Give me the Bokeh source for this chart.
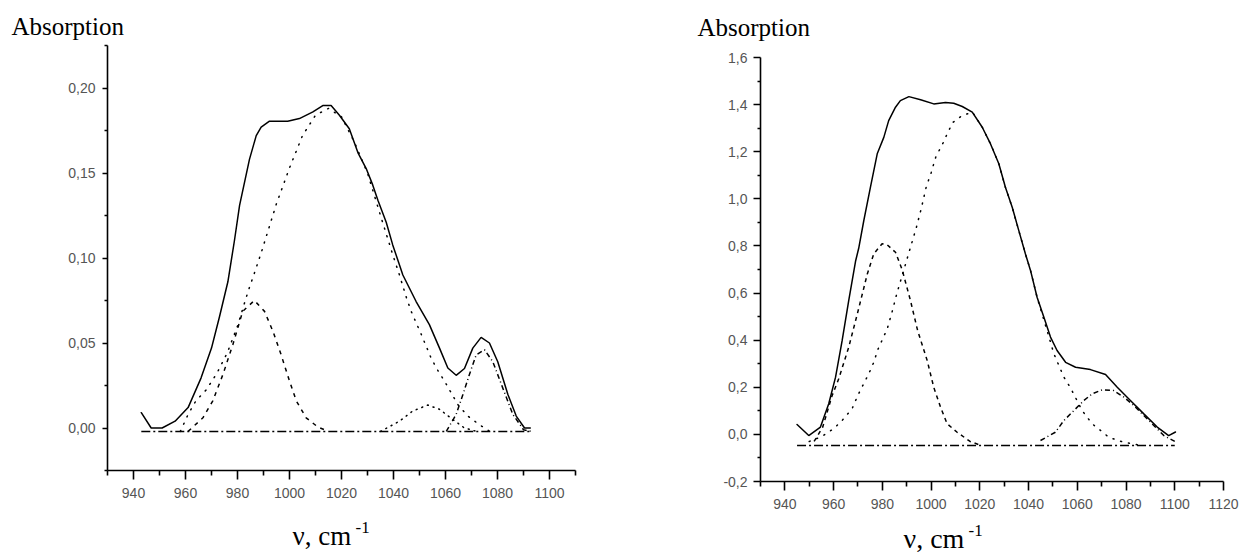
from bokeh.plotting import figure
from bokeh.models import FixedTicker, CustomJSTickFormatter, LinearAxis, Range1d
from bokeh.core.properties import value
from bokeh.embed import file_html
from bokeh.resources import INLINE

# ---------------- data: left spectrum ----------------
left_solid_x = [943, 946.8, 951, 956, 961, 966, 970, 973, 976.3, 978.8, 980.8, 984.6, 987.2, 989.1,
                992.3, 999.3, 1003.8, 1009, 1012.8, 1016, 1019.2, 1023, 1026.3, 1029.5, 1032, 1034,
                1037.2, 1039.7, 1043.6, 1048.7, 1053.8, 1057.7, 1060.9, 1064.1, 1067.3, 1070.5,
                1073.7, 1076.9, 1080.1, 1084, 1087.2, 1090.4, 1092.6]
left_solid_y = [0.009, 0.0, 0.0, 0.004, 0.012, 0.0295, 0.047, 0.065, 0.086, 0.110, 0.131, 0.158, 0.172, 0.177,
                0.1805, 0.1805, 0.182, 0.186, 0.1897, 0.1897, 0.184, 0.176, 0.162, 0.1526, 0.143, 0.134,
                0.121, 0.1077, 0.090, 0.0744, 0.0608, 0.047, 0.0353, 0.031, 0.035, 0.047,
                0.0533, 0.050, 0.039, 0.0197, 0.007, 0.0, 0.0]

left_g1_x = [961, 966.7, 970.5, 974.4, 978.2, 982, 986.5, 990.4, 993.6, 996.8, 1000, 1002.6, 1006.4, 1010.9, 1015]
left_g1_y = [-0.002, 0.006, 0.016, 0.0315, 0.049, 0.0686, 0.075, 0.0686, 0.057, 0.043, 0.0276, 0.016, 0.006, 0.0006, -0.002]

left_b1_x = [958, 961, 964, 968, 972, 976, 980, 984, 987.8, 989.3, 995, 1000, 1005, 1010, 1015, 1020, 1025,
             1030, 1035, 1039.7, 1042.3, 1044.9, 1046.8, 1050.7, 1052.6, 1054.5, 1057, 1059.6, 1062.2,
             1064.7, 1068.6, 1073, 1077]
left_b1_y = [-0.002, 0.008, 0.016, 0.0225, 0.032, 0.044, 0.060, 0.080, 0.097, 0.104, 0.132, 0.153, 0.172, 0.184,
             0.188, 0.183, 0.168, 0.150, 0.125, 0.102, 0.090, 0.077, 0.0686, 0.055, 0.048, 0.041, 0.034,
             0.0276, 0.0207, 0.0139, 0.007, 0.002, -0.002]

left_g2_x = [1035, 1042.3, 1047.4, 1053.2, 1057.7, 1062.8, 1067.3, 1072]
left_g2_y = [-0.002, 0.004, 0.010, 0.0135, 0.011, 0.005, 0.0, -0.002]

left_g3_x = [1060.3, 1064.1, 1066.7, 1069.2, 1071.8, 1075, 1078.2, 1082, 1085.9, 1090, 1093]
left_g3_y = [-0.002, 0.008, 0.0197, 0.0315, 0.043, 0.046, 0.039, 0.0236, 0.008, -0.001, -0.002]

left_base_x = [943, 1093]
left_base_y = [-0.002, -0.002]

left_xlim = (930, 1110)
left_ylim = (-0.025, 0.225)
left_xticks = [940, 960, 980, 1000, 1020, 1040, 1060, 1080, 1100]
left_xminor = [930, 950, 970, 990, 1010, 1030, 1050, 1070, 1090, 1110]
left_yticks = [0.0, 0.05, 0.10, 0.15, 0.20]
left_yminor = [-0.025, 0.025, 0.075, 0.125, 0.175, 0.225]

# ---------------- data: right spectrum ----------------
right_solid_x = [945, 949.8, 954.6, 958, 960.8, 963.5, 966.2, 969, 970.3, 972.4, 975.1, 977.9, 980.6, 982.6,
                 985.4, 987.4, 990.9, 995.7, 1001.1, 1005.9, 1009.3, 1012.8, 1016.9, 1021, 1024.4, 1027.8,
                 1030.5, 1033.3, 1036, 1038.7, 1040.8, 1043.5, 1046.3, 1049, 1051.7, 1055.2, 1059.3, 1065.4,
                 1071.6, 1076.4, 1081.8, 1087.3, 1092.8, 1097.5, 1100.3]
right_solid_y = [0.042, -0.005, 0.031, 0.13, 0.243, 0.398, 0.568, 0.735, 0.79, 0.908, 1.049, 1.191, 1.261, 1.332,
                 1.389, 1.417, 1.434, 1.421, 1.403, 1.409, 1.406, 1.392, 1.368, 1.304, 1.233, 1.149,
                 1.049, 0.964, 0.865, 0.767, 0.696, 0.582, 0.497, 0.413, 0.356, 0.306, 0.285, 0.275,
                 0.254, 0.2, 0.144, 0.087, 0.031, -0.005, 0.01]

right_g1_x = [952, 955.5, 959.4, 962.1, 966.2, 969.7, 973.8, 976.5, 979.9, 982, 985.4, 988.1, 991.5, 994.5,
              998.4, 1001.1, 1003.9, 1006.6, 1010.7, 1016, 1020]
right_g1_y = [-0.03, 0.03, 0.165, 0.236, 0.37, 0.51, 0.68, 0.767, 0.809, 0.805, 0.773, 0.70, 0.57, 0.44,
              0.314, 0.2, 0.115, 0.045, 0.009, -0.03, -0.045]

right_b1_x = [950, 955, 960, 963.5, 967.6, 969.9, 974.4, 976.5, 978.1, 982, 984, 986, 988, 990, 992, 994,
              996, 998, 1000, 1002, 1004.6, 1006.6, 1008.9, 1012.8, 1017, 1021, 1024.4, 1027.8, 1030.5,
              1033.3, 1036, 1038.7, 1040.8, 1043.5, 1047.6, 1050.4, 1054.5, 1057.2, 1062, 1066.1, 1069.5,
              1072.9, 1078, 1085]
right_b1_y = [-0.03, -0.01, 0.024, 0.059, 0.109, 0.165, 0.257, 0.306, 0.359, 0.448, 0.52, 0.60, 0.67, 0.74,
              0.81, 0.88, 0.96, 1.05, 1.11, 1.18, 1.23, 1.276, 1.324, 1.354, 1.368, 1.304, 1.233, 1.149,
              1.049, 0.964, 0.865, 0.767, 0.696, 0.582, 0.441, 0.342, 0.243, 0.198, 0.101, 0.045, 0.017,
              -0.012, -0.03, -0.045]

right_g3_x = [1044.9, 1051, 1054.5, 1058.6, 1062.7, 1066.1, 1070.2, 1075, 1079.1, 1083.2, 1087.3, 1091.4, 1095.5, 1100]
right_g3_y = [-0.026, 0.009, 0.059, 0.101, 0.144, 0.172, 0.189, 0.186, 0.158, 0.123, 0.08, 0.038, -0.005, -0.03]

right_base_x = [945, 1100]
right_base_y = [-0.047, -0.047]

right_xlim = (930, 1120)
right_ylim = (-0.2, 1.6)
right_xticks = [940, 960, 980, 1000, 1020, 1040, 1060, 1080, 1100, 1120]
right_xminor = [930, 950, 970, 990, 1010, 1030, 1050, 1070, 1090, 1110]
right_yticks = [-0.2, 0.0, 0.2, 0.4, 0.6, 0.8, 1.0, 1.2, 1.4, 1.6]
right_yminor = [-0.1, 0.1, 0.3, 0.5, 0.7, 0.9, 1.1, 1.3, 1.5]

# ---------------- texts ----------------
y_label = "Absorption"
x_label = "ν, cm"
x_label_sup = "-1"

# ---------------- layout (pixels) ----------------
W, H = 1242, 556
TICK_FONT = "Liberation Sans"
SERIF = "Liberation Serif"

# axis box of each panel on the page: (x at xlim[0], x at xlim[1], y at ylim[0], y at ylim[1])
LEFT_BOX = (107, 575, 470, 45)
RIGHT_BOX = (760, 1223, 481, 57)


class Mapper:
    def __init__(self, xlim, ylim, box):
        self.xlim, self.ylim = xlim, ylim
        self.sx = (box[1] - box[0]) / (xlim[1] - xlim[0])
        self.sy = (box[3] - box[2]) / (ylim[1] - ylim[0])
        self.box = box

    def dx(self, px):
        return self.xlim[0] + (px - self.box[0]) / self.sx

    def dy(self, py):
        return self.ylim[0] + (py - self.box[2]) / self.sy

    def x_range(self):
        return Range1d(self.dx(0), self.dx(W))

    def y_range(self):
        return Range1d(self.dy(H), self.dy(0))


lm = Mapper(left_xlim, left_ylim, LEFT_BOX)
rm = Mapper(right_xlim, right_ylim, RIGHT_BOX)

p = figure(width=W, height=H, x_range=lm.x_range(), y_range=lm.y_range(),
           x_axis_type=None, y_axis_type=None,
           output_backend="svg", toolbar_location=None,
           min_border_left=0, min_border_right=0, min_border_top=0, min_border_bottom=0)
p.extra_x_ranges = {"rx": rm.x_range()}
p.extra_y_ranges = {"ry": rm.y_range()}
p.outline_line_color = None
p.background_fill_color = "white"
p.border_fill_color = "white"


def style_axis(ax):
    ax.axis_line_color = "black"
    ax.axis_line_width = 1.6
    ax.major_tick_line_color = "black"
    ax.minor_tick_line_color = "black"
    ax.major_tick_line_width = 1.6
    ax.minor_tick_line_width = 1.6
    ax.major_tick_in = 0
    ax.minor_tick_in = 0
    ax.major_label_text_font = TICK_FONT
    ax.major_label_text_font_size = "14px"
    ax.major_label_text_color = "#555555"


def add_axes(xr, yr, xlim, ylim, xt, xm, yt, ym, digits, ytick_out, ystandoff):
    xa = LinearAxis(x_range_name=xr, y_range_name=yr, fixed_location=ylim[0], bounds=xlim,
                    ticker=FixedTicker(ticks=xt, minor_ticks=xm))
    style_axis(xa)
    xa.major_tick_out = 9
    xa.minor_tick_out = 5
    xa.major_label_standoff = 8
    ya = LinearAxis(x_range_name=xr, y_range_name=yr, fixed_location=xlim[0], bounds=ylim,
                    ticker=FixedTicker(ticks=yt, minor_ticks=ym),
                    formatter=CustomJSTickFormatter(
                        code="return tick.toFixed(%d).replace('.', ',');" % digits))
    style_axis(ya)
    ya.major_tick_out = ytick_out
    ya.minor_tick_out = 3
    ya.major_label_standoff = ystandoff
    p.add_layout(xa, "below")
    p.add_layout(ya, "left")


def add_curves(xr, yr, curves):
    for xs, ys, dash, cap in curves:
        p.line(xs, ys, line_color="black", line_width=1.5, line_dash=dash, line_cap=cap,
               x_range_name=xr, y_range_name=yr)


def add_text(xr, yr, m, px, py, txt, size):
    p.text(x=[m.dx(px)], y=[m.dy(py)], text=[txt], x_range_name=xr, y_range_name=yr,
           text_font=value(SERIF), text_font_size=value(size), text_color="black",
           text_align="left", text_baseline="alphabetic")


# ---------------- left panel ----------------
add_axes("default", "default", left_xlim, left_ylim, left_xticks, left_xminor,
         left_yticks, left_yminor, 2, 5, 7)
add_curves("default", "default", [
    (left_base_x, left_base_y, "9 3 2 3", "butt"),
    (left_g1_x, left_g1_y, "4 5", "butt"),
    (left_b1_x, left_b1_y, "1 7", "round"),
    (left_g2_x, left_g2_y, "1 5", "round"),
    (left_g3_x, left_g3_y, "5 3 1 3", "butt"),
    (left_solid_x, left_solid_y, "solid", "round"),
])
add_text("default", "default", lm, 11, 26, y_label, "25px")
add_text("default", "default", lm, 292, 535, x_label, "27px")
add_text("default", "default", lm, 355, 527, x_label_sup, "17px")

# ---------------- right panel ----------------
add_axes("rx", "ry", right_xlim, right_ylim, right_xticks, right_xminor,
         right_yticks, right_yminor, 1, 7, 6)
add_curves("rx", "ry", [
    (right_base_x, right_base_y, "9 3 2 3", "butt"),
    (right_g1_x, right_g1_y, "4 4", "butt"),
    (right_b1_x, right_b1_y, "1 7", "round"),
    (right_g3_x, right_g3_y, "5 3 1 3", "butt"),
    (right_solid_x, right_solid_y, "solid", "round"),
])
add_text("rx", "ry", rm, 697, 27, y_label, "25px")
add_text("rx", "ry", rm, 903, 538, x_label, "28px")
add_text("rx", "ry", rm, 968, 530, x_label_sup, "17px")

open("out.html", "w").write(file_html(p, INLINE))
